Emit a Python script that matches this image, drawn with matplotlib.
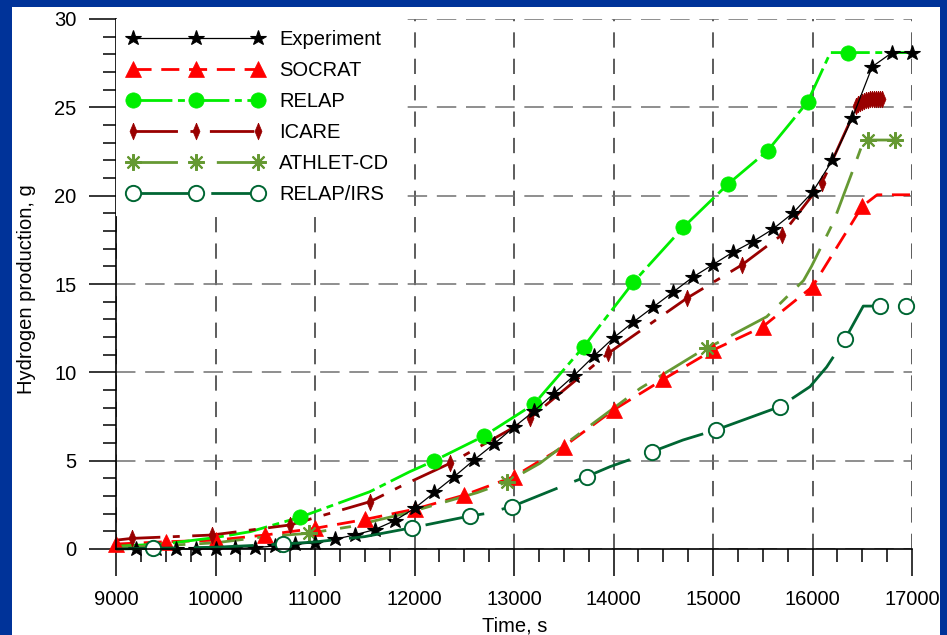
import matplotlib
matplotlib.use('Agg')
import matplotlib.pyplot as plt
from matplotlib.lines import Line2D
from matplotlib.patches import Rectangle
from matplotlib.ticker import MultipleLocator

plt.rcParams['font.family'] = ['Liberation Sans', 'DejaVu Sans']
plt.rcParams['lines.scale_dashes'] = False

# ---------------- data ----------------
exp_t = list(range(9200, 17001, 200))
exp_h = [0.0, 0.0, 0.0, 0.0, 0.0, 0.03, 0.08, 0.17, 0.27, 0.35,
         0.55, 0.8, 1.1, 1.6, 2.3, 3.2, 4.1, 5.05, 5.95, 6.9,
         7.8, 8.8, 9.8, 10.9, 11.95, 12.85, 13.7, 14.55, 15.4, 16.1,
         16.8, 17.4, 18.1, 19.0, 20.2, 22.0, 24.4, 27.3, 28.1, 28.1]

socrat_mt = [9000, 9500, 10000, 10500, 11000, 11500, 12000, 12500,
             13000, 13500, 14000, 14500, 15000, 15500, 16000, 16500]
socrat_mh = [0.28, 0.41, 0.5, 0.79, 1.17, 1.67, 2.25, 3.05,
             4.1, 5.8, 7.87, 9.6, 11.26, 12.58, 14.85, 19.4]
socrat_t = socrat_mt + [16650, 17000]
socrat_h = socrat_mh + [20.05, 20.05]

relap_t = [9000, 9500, 10000, 10350, 10850, 11550, 11950, 12200, 12700,
           13200, 13700, 14200, 14700, 15150, 15550, 15950, 16180, 17000]
relap_h = [0.15, 0.3, 0.65, 0.98, 1.8, 3.24, 4.37, 5.0, 6.4,
           8.2, 11.45, 15.1, 18.2, 20.65, 22.55, 25.3, 28.1, 28.1]
relap_mt = [10850, 12200, 12700, 13200, 13700, 14200, 14700, 15150, 15550, 15950, 16360]
relap_mh = [1.8, 5.0, 6.4, 8.2, 11.45, 15.1, 18.2, 20.65, 22.55, 25.3, 28.1]

icare_t = [9000, 9158, 9962, 10749, 11553, 11880, 12357, 13161, 13945, 14739,
           15288, 15690, 16092, 16176, 16377, 16450, 16700]
icare_h = [0.5, 0.6, 0.79, 1.36, 2.68, 3.6, 4.85, 7.4, 11.07, 14.2,
           16.07, 17.77, 20.7, 21.7, 24.2, 25.1, 25.45]
icare_mt = [9158, 9962, 10749, 11553, 12357, 13161, 13945, 14739, 15288, 15690, 16092,
            16440, 16460, 16480, 16500, 16520, 16540, 16560, 16580, 16600,
            16620, 16640, 16660, 16680, 16700]
icare_mh = [0.6, 0.79, 1.36, 2.68, 4.85, 7.4, 11.07, 14.2, 16.07, 17.77, 20.7,
            25.1, 25.2, 25.25, 25.3, 25.35, 25.4, 25.4, 25.45, 25.45,
            25.45, 25.45, 25.45, 25.45, 25.45]

athlet_t = [9000, 9500, 10000, 10500, 10940, 11350, 11900, 12630, 12930, 13260,
            13530, 14270, 14870, 14940, 15540, 15910, 15990, 16210, 16390, 16510,
            16560, 16830]
athlet_h = [0.1, 0.2, 0.35, 0.7, 0.89, 1.26, 2.0, 3.19, 3.8, 4.85,
            6.0, 9.1, 11.17, 11.36, 13.15, 15.2, 16.0, 18.5, 21.2, 23.05,
            23.15, 23.15]
athlet_mt = [10940, 12930, 14940, 16560, 16830]
athlet_mh = [0.89, 3.8, 11.36, 23.15, 23.15]

irs_t = [9000, 9375, 10000, 10675, 11000, 11500, 11971, 12558, 12709, 12977,
         13593, 13731, 13965, 14384, 14699, 15030, 15673, 15975, 16142, 16326,
         16510, 16940]
irs_h = [0.0, 0.04, 0.1, 0.28, 0.4, 0.7, 1.2, 1.87, 2.0, 2.4,
         3.8, 4.1, 4.66, 5.5, 6.17, 6.74, 8.06, 9.19, 10.3, 11.87,
         13.75, 13.75]
irs_mt = [9375, 10675, 11971, 12558, 12977, 13731, 14384, 15030, 15673, 16326, 16678, 16940]
irs_mh = [0.04, 0.28, 1.2, 1.87, 2.4, 4.1, 5.5, 6.74, 8.06, 11.87, 13.75, 13.75]

labels = ['Experiment', 'SOCRAT', 'RELAP', 'ICARE', 'ATHLET-CD', 'RELAP/IRS']
x_ticks = [9000, 10000, 11000, 12000, 13000, 14000, 15000, 16000, 17000]
y_ticks = [0, 5, 10, 15, 20, 25, 30]

# ---------------- styles ----------------
thin_diamond = [(0, 1), (0.42, 0), (0, -1), (-0.42, 0), (0, 1)]
styles = [
    dict(color='black', lw=0.9, ls='-', marker='*', ms=11.5, mfc='black', mec='black', mew=0.8),
    dict(color='#ff0000', lw=2.0, ls=(0, (13, 7)), marker='^', ms=11, mfc='#ff0000', mec='#ff0000', mew=0.5),
    dict(color='#00ee00', lw=2.0, ls=(0, (28, 4, 5, 4)), marker='o', ms=11, mfc='#00ee00', mec='#00ee00', mew=0.5),
    dict(color='#990000', lw=2.0, ls=(0, (32, 9, 5, 9)), marker=thin_diamond, ms=12, mfc='#990000', mec='#990000', mew=0.5),
    dict(color='#669933', lw=2.0, ls=(0, (32, 10, 8, 10)), marker=(8, 2, 0), ms=12, mfc='#669933', mec='#669933', mew=1.5),
    dict(color='#006633', lw=2.0, ls=(0, (43, 13)), marker='o', ms=11, mfc='white', mec='#006633', mew=1.4),
]

fig = plt.figure(figsize=(9.47, 6.35), dpi=100, facecolor='#003399')
fig.add_artist(Rectangle((12 / 947, 0), (940 - 12) / 947, (635 - 7) / 635,
                         transform=fig.transFigure, facecolor='white',
                         edgecolor='none', zorder=-5))
ax = fig.add_axes([116 / 947, 86 / 635, 796 / 947, 530 / 635])

series = [
    (exp_t, exp_h, exp_t, exp_h),
    (socrat_t, socrat_h, socrat_mt, socrat_mh),
    (relap_t, relap_h, relap_mt, relap_mh),
    (icare_t, icare_h, icare_mt, icare_mh),
    (athlet_t, athlet_h, athlet_mt, athlet_mh),
    (irs_t, irs_h, irs_mt, irs_mh),
]
zorders = [6, 3, 3, 3, 3, 7]
handles = []
for (lt, lh, mt, mh), st, z, lab in zip(series, styles, zorders, labels):
    ax.plot(lt, lh, color=st['color'], lw=st['lw'], ls=st['ls'], zorder=z,
            clip_on=False, solid_capstyle='butt', dash_capstyle='butt')
    ax.plot(mt, mh, ls='none', marker=st['marker'], ms=st['ms'], mfc=st['mfc'],
            mec=st['mec'], mew=st['mew'], zorder=z + 0.5, clip_on=False)
    handles.append(Line2D([], [], color=st['color'], lw=st['lw'], ls=st['ls'],
                          marker=st['marker'], ms=st['ms'], mfc=st['mfc'],
                          mec=st['mec'], mew=st['mew'], dash_capstyle='butt',
                          solid_capstyle='butt', label=lab))

ax.set_xlim(9000, 17000)
ax.set_ylim(0, 30)
ax.set_xticks(x_ticks)
ax.set_yticks(y_ticks)
ax.xaxis.set_minor_locator(MultipleLocator(250))
ax.yaxis.set_minor_locator(MultipleLocator(1))
ax.tick_params(axis='both', which='major', direction='out', length=19.5, width=1.1,
               labelsize=14.5, color='black')
ax.tick_params(axis='both', which='minor', direction='out', length=9.5, width=1.1)
ax.tick_params(axis='x', which='major', pad=10)
ax.tick_params(axis='y', which='major', pad=9)

for s in ['top', 'right']:
    ax.spines[s].set_visible(False)
for s in ['left', 'bottom']:
    ax.spines[s].set_linewidth(1.2)
    ax.spines[s].set_zorder(8)

ax.set_axisbelow(True)
ax.yaxis.grid(True, which='major', color='#707070', lw=1.1, ls=(0, (14, 7)))
ax.xaxis.grid(True, which='major', color='#303030', lw=1.1, ls=(0, (11, 8)))

leg = ax.legend(handles=handles, loc='upper left', bbox_to_anchor=(0, 1),
                numpoints=3, fontsize=14.5, handlelength=6.8, handletextpad=0.76,
                labelspacing=0.6, borderpad=0.55, borderaxespad=0.0,
                frameon=True, fancybox=False, framealpha=1.0,
                facecolor='white', edgecolor='none')
leg.set_zorder(10)

fig.text(515 / 947, (635 - 626) / 635, 'Time, s', ha='center', va='center', fontsize=14.5)
fig.text(26 / 947, (635 - 289) / 635, 'Hydrogen production, g', ha='center', va='center',
         rotation=90, fontsize=14.5)

fig.savefig('out.png', dpi=100, facecolor=fig.get_facecolor())
